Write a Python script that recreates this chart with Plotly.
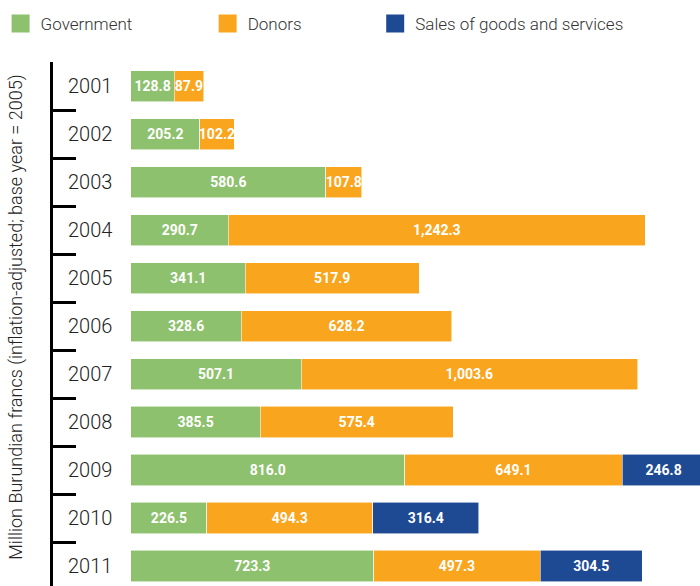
import plotly.graph_objects as go

years = ["2001", "2002", "2003", "2004", "2005", "2006", "2007", "2008", "2009", "2010", "2011"]
government = [128.8, 205.2, 580.6, 290.7, 341.1, 328.6, 507.1, 385.5, 816.0, 226.5, 723.3]
donors = [87.9, 102.2, 107.8, 1242.3, 517.9, 628.2, 1003.6, 575.4, 649.1, 494.3, 497.3]
sales = [None, None, None, None, None, None, None, None, 246.8, 316.4, 304.5]

series = [
    ("Government", government, "#8DC16D"),
    ("Donors", donors, "#F9A51E"),
    ("Sales of goods and services", sales, "#1E4A94"),
]

pos = list(range(len(years)))
boundaries = [p - 0.5 for p in pos]

FONT = "Roboto, Liberation Sans, sans-serif"

fig = go.Figure()
for name, vals, col in series:
    fig.add_trace(go.Bar(
        y=pos, x=vals, orientation="h", name=name, showlegend=False,
        width=0.646,
        marker=dict(color=col, line=dict(color="rgba(255,255,255,0.7)", width=0.8)),
        texttemplate="%{x:,.1f}", textposition="inside", insidetextanchor="middle",
        textangle=0, constraintext="none",
        textfont=dict(color="white", size=14, family=FONT, weight="bold"),
    ))

legend_names = ["legend", "legend2", "legend3"]
legend_x = [-0.081, 0.239, 0.498]
for (name, vals, col), lg in zip(series, legend_names):
    fig.add_trace(go.Scatter(
        x=[None], y=[None], mode="markers", name=name, legend=lg, yaxis="y2",
        marker=dict(symbol="square", size=16, color=col, line=dict(color=col, width=2)),
    ))

legend_common = dict(orientation="h", yanchor="middle", xanchor="left",
                     font=dict(size=17, family=FONT, color="#333333", weight=300),
                     bgcolor="rgba(0,0,0,0)", itemsizing="trace")
layout_legends = {}
for lg, lx in zip(legend_names, legend_x):
    layout_legends[lg] = dict(legend_common, x=lx, y=1.0725)

yrange = [10.4167, -0.5]
fig.update_layout(
    width=700, height=586,
    margin=dict(l=53, r=0, t=62, b=0),
    barmode="stack",
    plot_bgcolor="white", paper_bgcolor="white",
    xaxis=dict(range=[-232.6, 1697], visible=False, showgrid=False, zeroline=False),
    yaxis=dict(range=yrange, showgrid=False, zeroline=False, showline=True,
               linecolor="black", linewidth=3, ticks="inside", ticklen=23,
               tickwidth=3, tickcolor="black", tickvals=boundaries,
               showticklabels=False),
    yaxis2=dict(range=yrange, overlaying="y", anchor="x", side="left",
                showgrid=False, zeroline=False, showline=False, ticks="",
                tickvals=pos, ticktext=years, ticklabelposition="inside",
                ticklabelstandoff=12,
                tickfont=dict(size=20, family=FONT, color="#222222", weight=300)),
    annotations=[dict(
        text="Million Burundian francs (inflation-adjusted; base year = 2005)",
        xref="paper", yref="paper", x=0, y=0.512, xanchor="center", yanchor="middle",
        xshift=-37, textangle=-90, showarrow=False,
        font=dict(size=18, family=FONT, color="#222222", weight=300),
    )],
    **layout_legends,
)

fig.write_html("out.html")
